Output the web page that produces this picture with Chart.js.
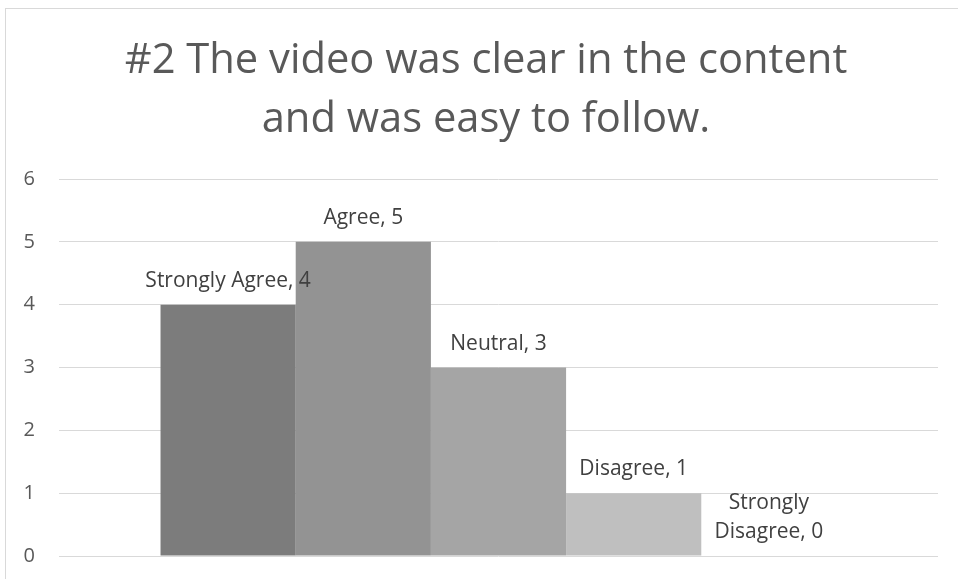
<!DOCTYPE html>
<html>
<head>
<meta charset="utf-8">
<script src="https://cdn.jsdelivr.net/npm/chart.js@4"></script>
<style>
  html, body { margin: 0; padding: 0; background: #fff; overflow: hidden; }
  canvas { display: block; }
</style>
</head>
<body>
<canvas id="chart" width="958" height="579"></canvas>
<script>
// data
const titleLines = ['#2 The video was clear in the content', 'and was easy to follow.'];
const seriesNames = ['Strongly Agree', 'Agree', 'Neutral', 'Disagree', 'Strongly Disagree'];
const seriesValues = [4, 5, 3, 1, 0];
const barColors = ['#7c7c7c', '#939393', '#a5a5a5', '#bfbfbf', '#d0d0d0'];
const yTicks = [0, 1, 2, 3, 4, 5, 6];

const FONT = '"Open Sans", "DejaVu Sans", sans-serif';

// frame + title, drawn behind the chart
const frameAndTitle = {
  id: 'frameAndTitle',
  beforeDraw(chart) {
    const ctx = chart.ctx;
    ctx.save();
    ctx.strokeStyle = '#d9d9d9';
    ctx.lineWidth = 1;
    ctx.strokeRect(5.5, 8.5, 958, 700);

    ctx.fillStyle = '#595959';
    ctx.font = '41.7px ' + FONT;
    ctx.textAlign = 'center';
    ctx.textBaseline = 'alphabetic';
    ctx.fillText(titleLines[0], 486, 73);
    ctx.fillText(titleLines[1], 486, 132);
    ctx.restore();
  }
};

// "Name, value" labels above each bar, long ones wrapped to bar width
function wrapText(ctx, text, maxW, lineW) {
  if (ctx.measureText(text).width <= maxW) return [text];
  const words = text.split(' ');
  const lines = [];
  let cur = '';
  words.forEach(w => {
    const test = cur ? cur + ' ' + w : w;
    if (cur && ctx.measureText(test).width > lineW) {
      lines.push(cur);
      cur = w;
    } else {
      cur = test;
    }
  });
  if (cur) lines.push(cur);
  return lines;
}

const barLabels = {
  id: 'barLabels',
  afterDatasetsDraw(chart) {
    const ctx = chart.ctx;
    ctx.save();
    ctx.fillStyle = '#404040';
    ctx.font = '21px ' + FONT;
    ctx.textAlign = 'center';
    ctx.textBaseline = 'alphabetic';
    chart.data.datasets.forEach((ds, i) => {
      const bar = chart.getDatasetMeta(i).data[0];
      const text = ds.label + ', ' + ds.data[0];
      const lines = wrapText(ctx, text, 175, bar.width);
      const lh = 29;
      lines.forEach((ln, j) => {
        const y = bar.y - 18 - (lines.length - 1 - j) * lh;
        ctx.fillText(ln, bar.x, y);
      });
    });
    ctx.restore();
  }
};

const ctx = document.getElementById('chart').getContext('2d');

const myChart = new Chart(ctx, {
  type: 'bar',
  data: {
    labels: [''],
    datasets: seriesNames.map((name, i) => ({
      label: name,
      data: [seriesValues[i]],
      backgroundColor: barColors[i],
      borderWidth: 0,
    })),
  },
  options: {
    responsive: false,
    animation: false,
    devicePixelRatio: 1,
    categoryPercentage: 0.769,
    barPercentage: 1.0,
    layout: {
      padding: { top: 179, bottom: 23, left: 0, right: 20 },
    },
    plugins: {
      legend: { display: false },
      title: { display: false },
      tooltip: { enabled: false },
    },
    scales: {
      x: {
        display: false,
      },
      y: {
        min: 0,
        max: 6,
        afterBuildTicks: (scale) => {
          scale.ticks = yTicks.map(v => ({ value: v }));
        },
        afterFit: (scale) => {
          scale.width = 59;
        },
        border: { display: false },
        grid: {
          color: '#d9d9d9',
          lineWidth: 1,
          drawTicks: true,
          tickLength: 24,
          tickColor: 'rgba(0,0,0,0)',
        },
        ticks: {
          padding: 0,
          color: '#595959',
          font: { family: FONT, size: 20 },
        },
      },
    },
  },
  plugins: [frameAndTitle, barLabels],
});
</script>
</body>
</html>
